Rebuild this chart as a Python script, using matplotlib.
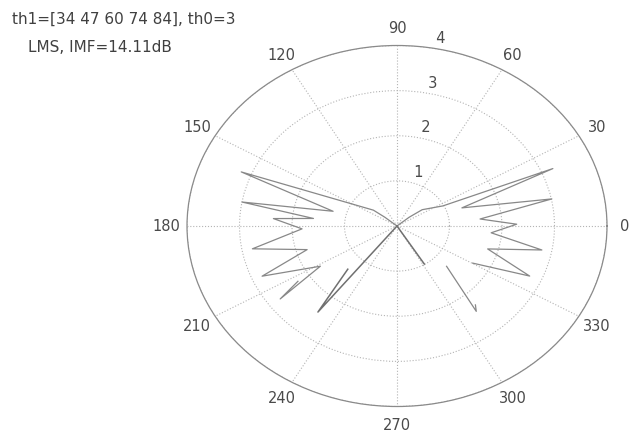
import numpy as np
import matplotlib
matplotlib.use("Agg")
import matplotlib.pyplot as plt

# ---- data (angles in degrees, radii in linear units) ----
title_line1 = "th1=[34 47 60 74 84], th0=3"
title_line2 = "LMS, IMF=14.11dB"

angle_ticks = [0, 30, 60, 90, 120, 150, 180, 210, 240, 270, 300, 330]
radial_ticks = [1, 2, 3, 4]

# right lobe (zig-zag fingers)
right_theta = [37, 40, 37, 27, 23.2, 18, 11.5, 5.6, 1, -4.8, -10.9, -16.4, -23.7, -29.7]
right_r = [0.0, 0.3, 0.6, 0.98, 3.23, 1.3, 3.01, 1.59, 2.28, 1.8, 2.81, 1.8, 2.76, 1.66]

# left lobe
left_theta = [143, 140, 142, 158, 165, 169.8, 174, 176, 182, 190.4, 197, 203.4, 211.4, 216, 213]
left_r = [0.0, 0.3, 0.57, 3.2, 1.26, 3.0, 1.6, 2.36, 1.81, 2.8, 1.79, 2.8, 1.71, 2.75, 2.25]

# lower spikes
spike_left_theta = [231.7, 231.7, 225.6]
spike_left_r = [0.0, 2.43, 1.34]
spike_right_theta = [301.7, 301.7]
spike_right_r = [0.0, 0.99]
bracket_right_theta = [316.6, 308.6, 310.5]
bracket_right_r = [1.3, 2.42, 2.3]

W, H = 631, 439
fig = plt.figure(figsize=(W / 100, H / 100), dpi=100)

cx, cy = 397, 227
rx, ry = 210, 180.5
ax = fig.add_axes([(cx - rx) / W, (H - cy - ry) / H, 2 * rx / W, 2 * ry / H],
                  projection="polar")
ax.set_aspect("auto")
ax.set_ylim(0, 4)
ax.set_rticks(radial_ticks)
ax.set_thetagrids(angle_ticks)
ax.set_xticklabels([])
ax.set_yticklabels([])
ax.grid(True, linestyle=":", color="#b4b4b4", linewidth=0.8)
ax.spines["polar"].set_color("#8a8a8a")
ax.spines["polar"].set_linewidth(0.9)
ax.set_facecolor("white")

line_kw = dict(color="#888888", linewidth=0.9)
ax.plot(np.deg2rad(right_theta), right_r, **line_kw)
ax.plot(np.deg2rad(left_theta), left_r, **line_kw)
ax.plot(np.deg2rad(spike_left_theta), spike_left_r, color="#707070", linewidth=1.1)
ax.plot(np.deg2rad(spike_right_theta), spike_right_r, color="#707070", linewidth=1.1)
ax.plot(np.deg2rad(bracket_right_theta), bracket_right_r, **line_kw)

lbl_color = "#4a4a4a"
for a in angle_ticks:
    rr = 4.33 if a == 0 else 4.4
    ax.text(np.deg2rad(a), rr, str(a), ha="center", va="center",
            fontsize=10.5, color=lbl_color, clip_on=False)
for rt in radial_ticks:
    ax.text(np.deg2rad(82), rt + 0.05, "  " + str(rt), ha="left", va="bottom",
            fontsize=10.5, color=lbl_color, clip_on=False)

fig.text(12 / W, 1 - 19 / H, title_line1, ha="left", va="center",
         fontsize=11, color="#404040")
fig.text(28 / W, 1 - 47 / H, title_line2, ha="left", va="center",
         fontsize=11, color="#404040")

fig.savefig("out.png", dpi=100, facecolor="white")
